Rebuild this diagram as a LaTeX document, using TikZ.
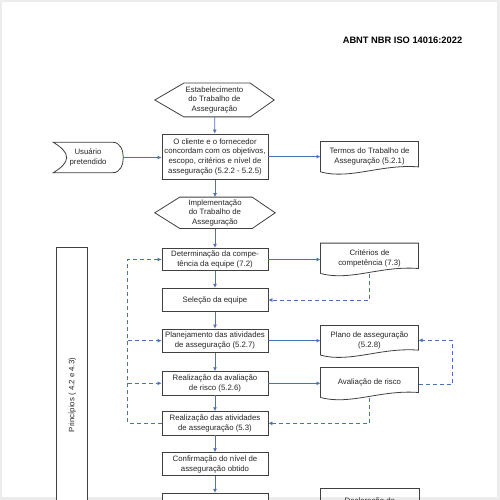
\documentclass[tikz,border=0pt]{standalone}
\usepackage{fontspec}
\setmainfont{Liberation Sans}
\usetikzlibrary{arrows.meta,calc}
\definecolor{blue1}{HTML}{4A72B8}
\definecolor{boxc}{HTML}{404040}
\definecolor{txtc}{HTML}{262626}
\newcommand{\nfont}{\fontsize{7.8}{9.6}\selectfont}
\tikzset{
  proc/.style={draw=boxc, line width=0.8pt, fill=white, minimum width=106pt, inner sep=0pt, align=center, font=\nfont, text=txtc},
  textbox/.style={inner sep=0pt, align=center, font=\nfont, text=txtc},
  outl/.style={draw=boxc, line width=0.8pt},
  flow/.style={draw=blue1, line width=0.8pt, -{Latex[length=4pt,width=4pt]}},
  fb/.style={flow, dash pattern=on 4pt off 3pt},
}
\newcommand{\docout}[1]{\draw[outl] (#1.south west) -- (#1.north west) -- (#1.north east) -- ([yshift=5pt]#1.south east) .. controls ([xshift=-38pt,yshift=8pt]#1.south east) and ([xshift=30pt,yshift=-8pt]#1.south west) .. (#1.south west);}
\newcommand{\hexout}[3]{\draw[outl] (#1.west) -- ([xshift=#2]#1.north west) -- ([xshift=-#3]#1.north east) -- (#1.east) -- ([xshift=-#3]#1.south east) -- ([xshift=#2]#1.south west) -- cycle;}
\begin{document}
\begin{tikzpicture}[x=1pt,y=-1pt]
\useasboundingbox (0,0) rectangle (500,500);
\fill[gray!15] (0,0) rectangle (500,500);
\fill[white] (2,2) rectangle (496.5,497);

% title
\node[font=\bfseries\fontsize{9.3}{11}\selectfont, text=black, inner sep=0pt] (title) at (402.5,40) {ABNT NBR ISO 14016:2022};

% principles column
\draw[outl, fill=white] (56.7,247.3) rectangle (87.7,520);
\node[textbox, rotate=90] (princ) at (72.2,395) {Princípios ( 4.2 e 4.3)};

% hexagons
\node[textbox, minimum width=119pt, minimum height=33.4pt] (hexA) at (214.5,100) {Estabelecimento\\do Trabalho de\\Asseguração};
\hexout{hexA}{29pt}{24pt}
\node[textbox, minimum width=120pt, minimum height=31pt] (hexB) at (215,212.8) {Implementação\\do Trabalho de\\Asseguração};
\hexout{hexB}{25pt}{23pt}

% process boxes
\node[proc, minimum height=45.3pt] (agree) at (215,156.7) {O cliente e o fornecedor\\concordam com os objetivos,\\escopo, critérios e nível de\\asseguração (5.2.2 - 5.2.5)};
\node[proc, minimum height=22.4pt] (det) at (215,259.5) {Determinação da compe-\\tência da equipe (7.2)};
\node[proc, minimum height=23.4pt] (sel) at (215,300) {Seleção da equipe};
\node[proc, minimum height=23.3pt] (plan) at (215,340.7) {Planejamento das atividades\\de asseguração (5.2.7)};
\node[proc, minimum height=23.3pt] (raval) at (215,383.3) {Realização da avaliação\\de risco (5.2.6)};
\node[proc, minimum height=23.3pt] (ratv) at (215,423.3) {Realização das atividades\\de asseguração (5.3)};
\node[proc, minimum height=23pt] (conf) at (215,464.2) {Confirmação do nível de\\asseguração obtido};
\node[proc, minimum height=23pt] (last) at (215,504.8) {};

% user (stored data shape)
\node[textbox, minimum width=60pt, minimum height=30.4pt] (user) at (88,157.5) {Usuário\\pretendido};
\draw[outl] (53.3,142.3) -- (113,142.3) .. controls (120,142.3) and (123.3,150) .. (123.3,157.5) .. controls (123.3,165) and (120,172.7) .. (113,172.7) -- (53.3,172.7) .. controls (61,168) and (66.7,163) .. (66.7,157.5) .. controls (66.7,152) and (61,147) .. cycle;
\coordinate (userE) at (123.3,157.5);

% documents
\node[textbox, minimum width=97.6pt, minimum height=30pt] (terms) at (369.5,156.7) {Termos do Trabalho de\\Asseguração (5.2.1)};
\docout{terms}
\node[textbox, minimum width=97.6pt, minimum height=30pt] (crit) at (369.5,258.3) {Critérios de\\competência (7.3)};
\docout{crit}
\node[textbox, minimum width=97.6pt, minimum height=29.3pt] (plano) at (369.5,340.3) {Plano de asseguração\\(5.2.8)};
\docout{plano}
\node[textbox, minimum width=97.6pt, minimum height=29.6pt] (aval) at (369.5,382.5) {Avaliação de risco};
\docout{aval}
\node[textbox, minimum width=98.3pt, minimum height=30pt, anchor=north] (decl) at (369.8,488.3) {\raisebox{-9pt}{Declaração do}\\ \phantom{X}};
\draw[outl] (decl.south west) -- (decl.north west) -- (decl.north east) -- (decl.south east);

% main flow
\draw[flow] (hexA) -- (agree);
\draw[flow] (agree) -- (hexB);
\draw[flow] (hexB) -- (det);
\draw[flow] (det) -- (sel);
\draw[flow] (sel) -- (plan);
\draw[flow] (plan) -- (raval);
\draw[flow] (raval) -- (ratv);
\draw[flow] (ratv) -- (conf);
\draw[flow] (conf) -- (last);

% side flows
\draw[flow] (userE) -- (userE -| agree.west);
\draw[flow] (agree.east) -- (agree.east -| terms.west);
\draw[flow] (det.east) -- (det.east -| crit.west);
\draw[flow] (plan.east) -- (plan.east -| plano.west);
\draw[flow] (raval.east) -- (raval.east -| aval.west);

% dashed feedback
\draw[fb] (crit.south) |- (sel.east);
\draw[fb] ([yshift=-1.5pt]aval.east) -- ++(34,0) |- (plano.east);
\draw[fb] (aval.south) |- (ratv.east);
\draw[fb] (ratv.west) -- ++(-34,0) coordinate (lc) |- (det.west);
\draw[fb] (lc |- plan.west) -- (plan.west);
\draw[fb] (lc |- raval.west) -- (raval.west);
\end{tikzpicture}
\end{document}
